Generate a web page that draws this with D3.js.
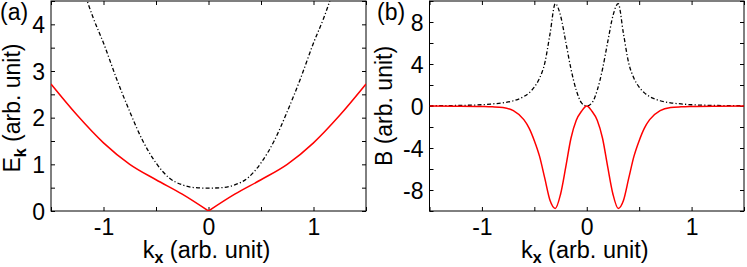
<!DOCTYPE html>
<html>
<head>
<meta charset="utf-8">
<script src="https://cdn.jsdelivr.net/npm/d3@7"></script>
<style>
  body { margin: 0; background: #fff; }
  svg { display: block; font-family: "Liberation Sans", Arial, sans-serif; }
  .tick text { font-size: 23px; fill: #000; }
  .tick line { stroke: #000; }
</style>
</head>
<body>
<svg id="chart"></svg>
<script>
// panel (a): dispersion
const kRedA = [-1.5, -1.25, -1.0, -0.75, -0.5, -0.25, 0, 0.25, 0.5, 0.75, 1.0, 1.25, 1.5];
const eRed = [2.72, 2.05, 1.46, 1.0, 0.67, 0.36, 0, 0.36, 0.67, 1.0, 1.46, 2.05, 2.72];

const kBlackA = [-1.2, -1.1, -1.0, -0.875, -0.75, -0.625, -0.5, -0.375, -0.25, -0.125, 0,
                 0.125, 0.25, 0.375, 0.5, 0.625, 0.75, 0.875, 1.0, 1.1, 1.2];
const eBlack = [4.8, 4.15, 3.6, 2.83, 2.13, 1.5, 1.03, 0.71, 0.56, 0.5, 0.49,
                0.5, 0.56, 0.71, 1.03, 1.5, 2.13, 2.83, 3.6, 4.15, 4.8];

// panel (b): curvature
const kB = [-1.5, -1.25, -1.0, -0.9, -0.8, -0.7, -0.6, -0.55, -0.5, -0.45, -0.4, -0.35, -0.3, -0.25, -0.2, -0.15, -0.1, -0.05, 0,
            0.05, 0.1, 0.15, 0.2, 0.25, 0.3, 0.35, 0.4, 0.45, 0.5, 0.55, 0.6, 0.7, 0.8, 0.9, 1.0, 1.25, 1.5];
const bBlack = [0.02, 0.05, 0.12, 0.2, 0.3, 0.5, 0.9, 1.25, 1.8, 2.65, 4.1, 6.9, 9.75, 8.6, 6.1, 3.5, 1.5, 0.3, 0,
                0.3, 1.5, 3.5, 6.1, 8.6, 9.75, 6.9, 4.1, 2.65, 1.8, 1.25, 0.9, 0.5, 0.3, 0.2, 0.12, 0.05, 0.02];
const bRed = [-0.01, -0.02, -0.05, -0.08, -0.15, -0.45, -1.3, -2.1, -3.3, -4.8, -6.9, -9.0, -9.75, -8.4, -5.8, -3.05, -1.35, -0.5, 0,
              -0.5, -1.35, -3.05, -5.8, -8.4, -9.75, -9.0, -6.9, -4.8, -3.3, -2.1, -1.3, -0.45, -0.15, -0.08, -0.05, -0.02, -0.01];

// ticks
const xTicks = [-1.5, -1, -0.5, 0, 0.5, 1, 1.5];
const xLabels = [-1, 0, 1];
const yTicksA = [0, 0.5, 1, 1.5, 2, 2.5, 3, 3.5, 4, 4.5];
const yLabelsA = [0, 1, 2, 3, 4];
const yTicksB = [-10, -8, -6, -4, -2, 0, 2, 4, 6, 8, 10];
const yLabelsB = [-8, -4, 0, 4, 8];

class LinePanel {

  constructor(_config, series) {
    this.config = {
      svg: _config.svg,
      left: _config.left,
      top: _config.top,
      width: _config.width,
      height: _config.height,
      xDomain: _config.xDomain,
      yDomain: _config.yDomain,
      yTicks: _config.yTicks,
      yLabels: _config.yLabels,
      id: _config.id
    };
    this.series = series;
    this.initVis();
  }

  initVis() {
    let vis = this;
    let c = vis.config;

    vis.x = d3.scaleLinear().domain(c.xDomain).range([0, c.width]);
    vis.y = d3.scaleLinear().domain(c.yDomain).range([c.height, 0]);

    vis.g = c.svg.append('g')
        .attr('transform', `translate(${c.left},${c.top})`);

    vis.g.append('clipPath')
        .attr('id', 'clip-' + c.id)
      .append('rect')
        .attr('width', c.width)
        .attr('height', c.height);

    // plain hyphen for negatives, like the original figure
    const fmt = labels => d => labels.includes(d) ? String(d) : '';

    // bottom / top
    vis.g.append('g')
        .attr('transform', `translate(0,${c.height})`)
        .call(d3.axisBottom(vis.x).tickValues(xTicks).tickFormat(fmt(xLabels))
            .tickSizeInner(-4).tickSizeOuter(0).tickPadding(8))
        .call(g => g.select('.domain').remove());
    vis.g.append('g')
        .call(d3.axisTop(vis.x).tickValues(xTicks).tickFormat('')
            .tickSizeInner(-4).tickSizeOuter(0))
        .call(g => g.select('.domain').remove());

    // left / right
    vis.g.append('g')
        .call(d3.axisLeft(vis.y).tickValues(c.yTicks).tickFormat(fmt(c.yLabels))
            .tickSizeInner(-4).tickSizeOuter(0).tickPadding(6))
        .call(g => g.select('.domain').remove())
        .call(g => g.selectAll('.tick text').attr('dy', '0.35em'));
    vis.g.append('g')
        .attr('transform', `translate(${c.width},0)`)
        .call(d3.axisRight(vis.y).tickValues(c.yTicks).tickFormat('')
            .tickSizeInner(-4).tickSizeOuter(0))
        .call(g => g.select('.domain').remove());

    vis.g.append('rect')
        .attr('width', c.width)
        .attr('height', c.height)
        .attr('fill', 'none')
        .attr('stroke', '#000')
        .attr('stroke-width', 1);

    vis.renderVis();
  }

  renderVis() {
    let vis = this;

    let line = d3.line()
        .x(d => vis.x(d[0]))
        .y(d => vis.y(d[1]))
        .curve(d3.curveMonotoneX);

    vis.g.append('g')
        .attr('clip-path', `url(#clip-${vis.config.id})`)
      .selectAll('path')
        .data(vis.series)
        .join('path')
        .attr('fill', 'none')
        .attr('stroke', d => d.color)
        .attr('stroke-width', d => d.width)
        .attr('stroke-dasharray', d => d.dash)
        .attr('d', d => line(d.points));
  }
}

const zip = (ks, vs) => ks.map((k, i) => [k, vs[i]]);

const svg = d3.select('#chart')
    .attr('width', 747)
    .attr('height', 267);

const redA = zip(kRedA, eRed);

new LinePanel({
  svg: svg, id: 'a',
  left: 51, top: 1, width: 315, height: 210,
  xDomain: [-1.5, 1.5], yDomain: [0, 4.5],
  yTicks: yTicksA, yLabels: yLabelsA
}, [
  {points: zip(kBlackA, eBlack), color: '#000', width: 1.3, dash: '4,2.2,1.2,2.2'},
  // split at the cusp so the V at k = 0 stays sharp
  {points: redA.filter(d => d[0] <= 0), color: '#ff0000', width: 1.5, dash: null},
  {points: redA.filter(d => d[0] >= 0), color: '#ff0000', width: 1.5, dash: null}
]);

new LinePanel({
  svg: svg, id: 'b',
  left: 429.5, top: 1, width: 314.5, height: 210,
  xDomain: [-1.5, 1.5], yDomain: [-10, 10],
  yTicks: yTicksB, yLabels: yLabelsB
}, [
  {points: zip(kB, bBlack), color: '#000', width: 1.3, dash: '4,2.2,1.2,2.2'},
  {points: zip(kB, bRed), color: '#ff0000', width: 1.5, dash: null}
]);

// axis titles
function xTitle(cx) {
  let t = svg.append('text')
      .attr('x', cx).attr('y', 258)
      .attr('text-anchor', 'middle')
      .attr('font-size', 23.5);
  t.append('tspan').text('k');
  t.append('tspan').attr('font-size', 16).attr('font-weight', 'bold').attr('dy', 5).text('x');
  t.append('tspan').attr('dy', -5).text(' (arb. unit)');
}
xTitle(51 + 315 / 2 - 2);
xTitle(429.5 + 314.5 / 2 - 2);

let ya = svg.append('text')
    .attr('transform', 'translate(20,108) rotate(-90)')
    .attr('text-anchor', 'middle')
    .attr('font-size', 23);
ya.append('tspan').text('E');
ya.append('tspan').attr('font-size', 16).attr('font-weight', 'bold').attr('dy', 6).text('k');
ya.append('tspan').attr('dy', -6).text(' (arb. unit)');

svg.append('text')
    .attr('transform', 'translate(392,106) rotate(-90)')
    .attr('text-anchor', 'middle')
    .attr('font-size', 23)
    .text('B (arb. unit)');

// panel letters
svg.append('text').attr('x', 0).attr('y', 20).attr('font-size', 23).text('(a)');
svg.append('text').attr('x', 377).attr('y', 20).attr('font-size', 23).text('(b)');
</script>
</body>
</html>
